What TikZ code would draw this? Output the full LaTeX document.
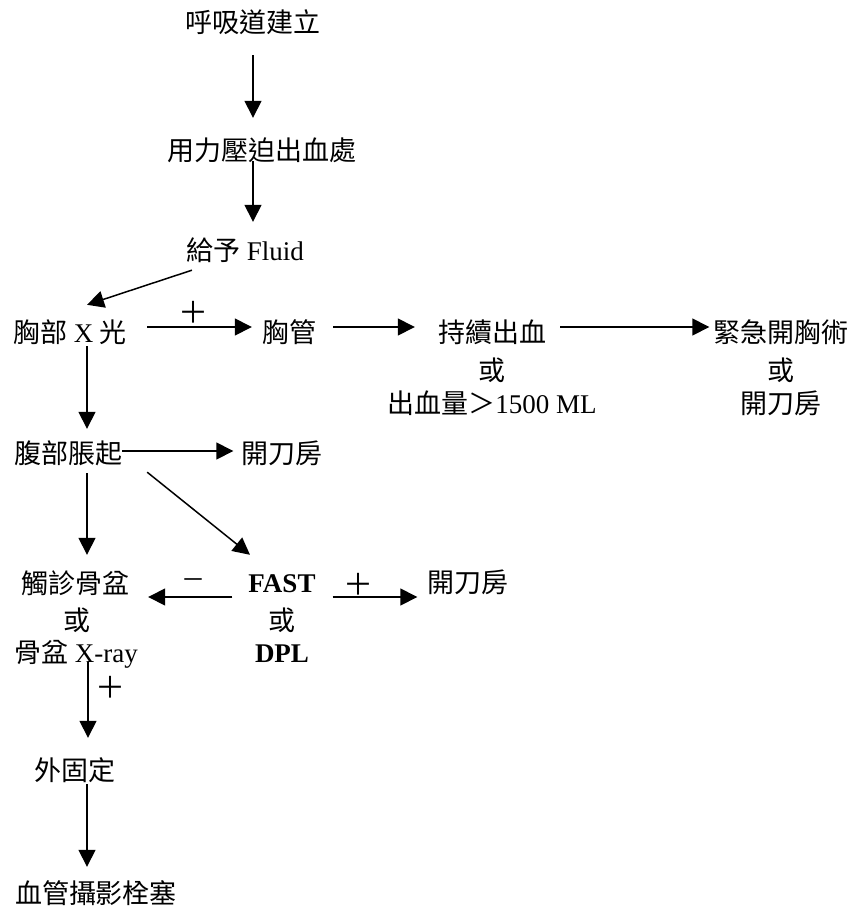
\documentclass[tikz,border=0pt]{standalone}
\usepackage{fontspec}
\setmainfont{Liberation Serif}
\newfontfamily\cjk{Noto Sans CJK TC}
\usetikzlibrary{arrows.meta,calc}
\begin{document}
\begin{tikzpicture}[x=1pt,y=-1pt,
  lbl/.style={inner sep=0pt, text height=24.3pt, text depth=3.7pt, font=\fontsize{27}{32}\selectfont},
  sgn/.style={inner sep=0pt, font=\fontsize{30}{34}\selectfont\cjk},
  arr/.style={line width=1.5pt, -{Triangle[length=17pt,width=17pt]}}]
\useasboundingbox (0,0) rectangle (861,910);
% nodes
\node[lbl] (n1) at (253,22) {\cjk 呼吸道建立};
\node[lbl] (n2) at (262,150) {\cjk 用力壓迫出血處};
\node[lbl] (n3) at (245,250) {{\cjk 給予} Fluid};
\node[lbl] (n4) at (70,332) {{\cjk 胸部} X {\cjk 光}};
\node[lbl] (n5) at (289,332) {\cjk 胸管};
\node[lbl] (b1) at (492,332) {\cjk 持續出血};
\node[lbl] (b2) at (492,370) {\cjk 或};
\node[lbl] (b3) at (492,403) {{\cjk 出血量＞}1500 ML};
\node[lbl] (t1) at (781,332) {\cjk 緊急開胸術};
\node[lbl] (t2) at (781,370) {\cjk 或};
\node[lbl] (t3) at (781,403) {\cjk 開刀房};
\node[lbl] (n8) at (68,453) {\cjk 腹部脹起};
\node[lbl] (n9) at (282,453) {\cjk 開刀房};
\node[lbl] (p1) at (75,583) {\cjk 觸診骨盆};
\node[lbl] (p2) at (77,620) {\cjk 或};
\node[lbl] (p3) at (76,652) {{\cjk 骨盆} X-ray};
\node[lbl] (f1) at (282,582) {\bfseries FAST};
\node[lbl] (f2) at (282,620) {\cjk 或};
\node[lbl] (f3) at (282,652) {\bfseries DPL};
\node[lbl] (n12) at (468,582) {\cjk 開刀房};
\node[lbl] (n13) at (75,770) {\cjk 外固定};
\node[lbl] (n14) at (96,893) {\cjk 血管攝影栓塞};
% signs
\node[sgn] (s1) at (193,312) {＋};
\node[sgn, font=\fontsize{24}{28}\selectfont\cjk] (s2) at (193,584) {－};
\node[sgn] (s3) at (358,584) {＋};
\node[sgn] (s4) at (110,687) {＋};
% connectors
\draw[arr] ($(n1.south)+(0,19)$) -- ($(n1.south |- n2.north)+(0,-18)$);
\draw[arr] ($(n2.south -| n1.south)+(0,-3)$) -- ($(n3.north -| n1.south)+(0,-14)$);
\draw[arr] ($(n3.south west)+(6,6)$) -- ($(n4.north)+(17,-13)$);
\draw[arr] ($(n4.east)+(20,-5)$) -- ($(n5.west)+(-10,-5)$);
\draw[arr] ($(n5.east)+(17,-5)$) -- ($(b1.west)+(-23,-5)$);
\draw[arr] ($(b1.east)+(14,-5)$) -- ($(t1.west)+(-4,-5)$);
\draw[arr] ($(n4.south)+(17,0)$) -- ($(n4.south |- n8.north)+(17,-10)$);
\draw[arr] ($(n8.east)+(0,-2)$) -- ($(n9.west)+(-8,-2)$);
\draw[arr] ($(n8.south east)+(25,5)$) -- ($(f1.north)+(-32,-13)$);
\draw[arr] ($(n8.south)+(19,6)$) -- ($(n8.south |- p1.north)+(19,-14)$);
\draw[arr] ($(f1.west)+(-16,15)$) -- ($(p1.east)+(19,14)$);
\draw[arr] ($(f1.east)+(17,15)$) -- ($(n12.west)+(-10,15)$);
\draw[arr] ($(p3.south)+(12,-4)$) -- ($(p3.south |- n13.north)+(12,-18)$);
\draw[arr] ($(n13.south)+(12,0)$) -- ($(n13.south |- n14.north)+(12,-12)$);
\end{tikzpicture}
\end{document}
